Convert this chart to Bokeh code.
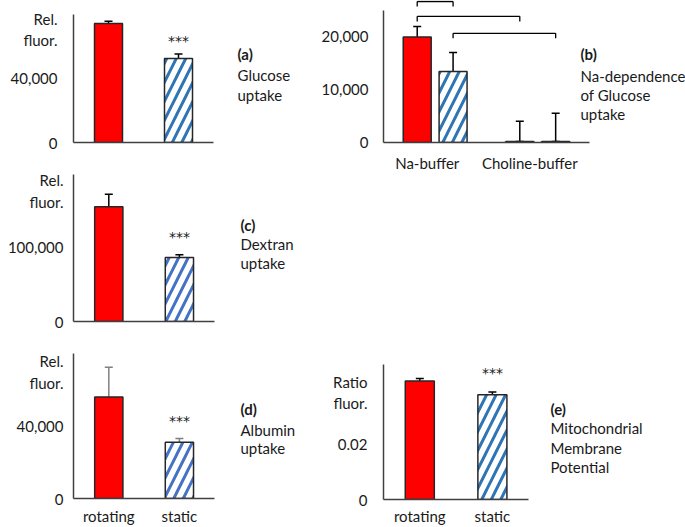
from bokeh.plotting import figure
from bokeh.models import (ColumnDataSource, Range1d, FixedTicker, NumeralTickFormatter,
                          Whisker, TeeHead, Label, Spacer)
from bokeh.layouts import row, column
from bokeh.core.properties import value
from bokeh.embed import file_html
from bokeh.resources import INLINE

# ---------------- data ----------------
conditions = ["rotating", "static"]
glucose = [73200, 51700]
glucose_err = [1500, 2800]
dextran = [153000, 85300]
dextran_err = [16700, 3800]
albumin = [55700, 30800]
albumin_err = [16200, 2100]
mito = [0.0429, 0.0379]
mito_err = [0.0009, 0.0010]

buffers = ["Na-buffer", "Choline-buffer"]
nadep = [19900, 13400, 200, 200]          # Na rot, Na static, Cho rot, Cho static
nadep_err_low = [2000, 3600, 0, 0]
nadep_err_high = [2000, 3600, 3800, 5300]
sig_pairs = [(0, 1), (0, 2), (1, 3)]
sig_heights = [26600, 23800, 20600]
sig_drop = 950

ticks_a = [0, 40000]
ticks_b = [0, 10000, 20000]
ticks_c = [0, 100000]
ticks_d = [0, 40000]
ticks_e = [0, 0.02]

# ---------------- style ----------------
FONT = "Lato"
FS = "15px"
RED = "#FF0000"
BLUE = "#2E75B6"
BLUE2 = "#4472C4"
EDGE = "#262626"
AXIS = "#404040"
TEXT = "#1a1a1a"
HATCH_SCALE = 19
HATCH_W = 3
GROUP_LABEL_SHIFT = -0.22


def base_fig(w, h, x_end, x_bound, yend, ticks, fmt, ylab, ylab_pos,
             bl, bt, bb, standoff, ybound=None):
    p = figure(width=w, height=h, x_range=Range1d(0, x_end), y_range=Range1d(0, yend),
               output_backend="svg", toolbar_location=None,
               min_border_left=bl, min_border_right=0,
               min_border_top=bt, min_border_bottom=bb)
    p.outline_line_color = None
    p.xgrid.visible = False
    p.ygrid.visible = False
    for ax in (p.xaxis[0], p.yaxis[0]):
        ax.axis_line_color = AXIS
        ax.axis_line_width = 1.5
        ax.major_tick_line_color = None
        ax.minor_tick_line_color = None
        ax.major_tick_out = 0
        ax.major_tick_in = 0
        ax.major_label_text_font = FONT
        ax.major_label_text_font_size = FS
        ax.major_label_text_color = TEXT
    p.yaxis.ticker = FixedTicker(ticks=list(ticks) + [ylab_pos], minor_ticks=[])
    p.yaxis.formatter = NumeralTickFormatter(format=fmt)
    p.yaxis.major_label_overrides = {ylab_pos: ylab}
    p.yaxis.major_label_standoff = standoff
    p.yaxis.bounds = (0, ybound if ybound is not None else yend)
    p.xaxis.bounds = (0, x_bound)
    p.xaxis.ticker = FixedTicker(ticks=[], minor_ticks=[])
    return p


def lab(p, x, y, text, bold=False):
    p.add_layout(Label(x=x, y=y, x_units="screen", y_units="screen", text=text,
                       text_align="left", text_baseline="middle", text_font=FONT,
                       text_font_size=FS, text_color=TEXT,
                       text_font_style="bold" if bold else "normal"))


def cond_axis(p, standoff):
    xs = [i + 0.5 for i in range(len(conditions))]
    p.xaxis.ticker = FixedTicker(ticks=xs, minor_ticks=[])
    p.xaxis.major_label_overrides = {x: c for x, c in zip(xs, conditions)}
    p.xaxis.major_label_standoff = standoff


def two_bars(p, vals, errs, hatch_color, err_color, star_off):
    xs = [i + 0.5 for i in range(len(conditions))]
    p.vbar(x=[xs[0]], top=[vals[0]], width=0.4, fill_color=RED,
           line_color=EDGE, line_width=1.5)
    p.vbar(x=[xs[1]], top=[vals[1]], width=0.4, fill_color="white",
           line_color=EDGE, line_width=1.5, hatch_pattern="/",
           hatch_color=hatch_color, hatch_scale=HATCH_SCALE, hatch_weight=HATCH_W)
    src = ColumnDataSource(dict(x=xs,
                                lower=[v - e for v, e in zip(vals, errs)],
                                upper=[v + e for v, e in zip(vals, errs)]))
    p.add_layout(Whisker(base="x", lower="lower", upper="upper", source=src,
                         dimension="height", line_color=err_color, line_width=1.5,
                         upper_head=TeeHead(size=8, line_color=err_color, line_width=1.5),
                         lower_head=TeeHead(size=8, line_color=err_color, line_width=1.5)))
    p.text(x=[xs[1]], y=[vals[1] + errs[1]], text=["***"], text_align="center",
           text_baseline="middle", y_offset=-star_off, text_font=value("DejaVu Sans"),
           text_font_size="14px", text_color=TEXT)


# ---------------- (a) glucose ----------------
pa = base_fig(318, 166, 3.5, 2, 78800, ticks_a, "0,0", "Rel.\nfluor.", 69500,
              73, 14, 24, 16)
two_bars(pa, glucose, glucose_err, BLUE, "#000000", 13)
lab(pa, 164, 89, "(a)", bold=True)
lab(pa, 164, 68, "Glucose")
lab(pa, 164, 48, "uptake")

# ---------------- (c) dextran ----------------
pc = base_fig(318, 174, 3.47, 2, 196000, ticks_c, "0,0", "Rel.\nfluor.", 174000,
              68, 8, 19, 10)
two_bars(pc, dextran, dextran_err, BLUE2, "#000000", 18)
lab(pc, 167, 97, "(c)", bold=True)
lab(pc, 167, 78, "Dextran")
lab(pc, 167, 59, "uptake")

# ---------------- (d) albumin ----------------
pd_ = base_fig(318, 187, 3.47, 2, 79500, ticks_d, "0,0", "Rel.\nfluor.", 69200,
               68, 13, 27, 10)
cond_axis(pd_, 8)
two_bars(pd_, albumin, albumin_err, BLUE2, "#808080", 17)
lab(pd_, 167, 90, "(d)", bold=True)
lab(pd_, 167, 69, "Albumin")
lab(pd_, 167, 51, "uptake")

# ---------------- (b) Na dependence ----------------
PAD_B, GAP_B = 0.44, 0.86
n_c = len(conditions)
bx = [PAD_B + 0.5 + i + GAP_B * (i // n_c) for i in range(len(nadep))]
b_bound = 2 * PAD_B + len(nadep) + GAP_B * (len(buffers) - 1)
pb = base_fig(367, 180, 8.42, b_bound, 26790, ticks_b, "0,0", "", 26000,
              64, 0, 38, 15, ybound=24900)
pb.yaxis.ticker = FixedTicker(ticks=ticks_b, minor_ticks=[])
pb.yaxis.major_label_overrides = {}
gcent = [(bx[g * n_c] + bx[g * n_c + n_c - 1]) / 2 + GROUP_LABEL_SHIFT
         for g in range(len(buffers))]
pb.xaxis.ticker = FixedTicker(ticks=gcent, minor_ticks=[])
pb.xaxis.major_label_overrides = {x: b for x, b in zip(gcent, buffers)}
pb.xaxis.major_label_standoff = 11

rx = [bx[i] for i in range(len(nadep)) if i % n_c == 0]
hx = [bx[i] for i in range(len(nadep)) if i % n_c == 1]
pb.vbar(x=rx, top=[nadep[i] for i in range(len(nadep)) if i % n_c == 0], width=0.78,
        fill_color=RED, line_color=EDGE, line_width=1.5)
pb.vbar(x=hx, top=[nadep[i] for i in range(len(nadep)) if i % n_c == 1], width=0.78,
        fill_color="white", line_color=EDGE, line_width=1.5, hatch_pattern="/",
        hatch_color=BLUE, hatch_scale=HATCH_SCALE, hatch_weight=HATCH_W)
srcb = ColumnDataSource(dict(x=bx,
                             lower=[v - e for v, e in zip(nadep, nadep_err_low)],
                             upper=[v + e for v, e in zip(nadep, nadep_err_high)]))
pb.add_layout(Whisker(base="x", lower="lower", upper="upper", source=srcb,
                      dimension="height", line_color="#000000", line_width=1.5,
                      upper_head=TeeHead(size=8, line_color="#000000", line_width=1.5),
                      lower_head=TeeHead(size=8, line_color="#000000", line_width=1.5)))
x0s, y0s, x1s, y1s = [], [], [], []
for (i, j), h in zip(sig_pairs, sig_heights):
    x0s += [bx[i], bx[i], bx[j]]
    x1s += [bx[j], bx[i], bx[j]]
    y0s += [h, h, h]
    y1s += [h, h - sig_drop, h - sig_drop]
pb.segment(x0=x0s, y0=y0s, x1=x1s, y1=y1s, line_color="#000000", line_width=1.3)
lab(pb, 197, 89, "(b)", bold=True)
lab(pb, 197, 67, "Na-dependence")
lab(pb, 197, 48, "of Glucose")
lab(pb, 197, 29, "uptake")

# ---------------- (e) mitochondrial ----------------
pe = base_fig(367, 187, 4.16, 2, 0.0489, ticks_e, "0.[00]", "Ratio\nfluor.", 0.0388,
              63, 24, 26, 16)
cond_axis(pe, 7)
two_bars(pe, mito, mito_err, BLUE, "#000000", 19)
lab(pe, 167, 91, "(e)", bold=True)
lab(pe, 167, 72, "Mitochondrial")
lab(pe, 167, 52, "Membrane")
lab(pe, 167, 33, "Potential")

layout = row(column(pa, pc, pd_), column(pb, Spacer(width=367, height=160), pe))

open("out.html", "w").write(file_html(layout, INLINE))
